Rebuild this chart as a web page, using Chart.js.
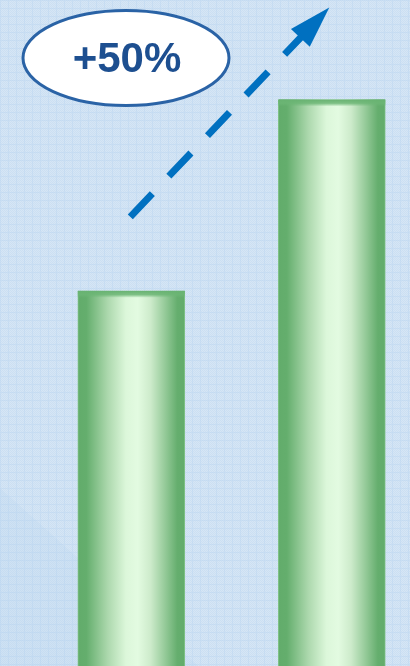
<!DOCTYPE html>
<html>
<head>
<meta charset="utf-8">
<script src="https://cdn.jsdelivr.net/npm/chart.js@4"></script>
<style>
  html, body { margin: 0; padding: 0; background: #cfe2f3; }
  #wrap { width: 410px; height: 666px; position: relative; }
</style>
</head>
<body>
<div id="wrap"><canvas id="c" width="410" height="666"></canvas></div>
<script>
// ---- data ----
const categories = ['Before', 'After'];
const values = [100, 151];
const changeLabel = '+50%';
const yMax = 177.5;

// ---- background pattern ----
function makePattern(ctx) {
  const p = document.createElement('canvas');
  p.width = 8; p.height = 8;
  const g = p.getContext('2d');
  for (let i = 0; i < 8; i++) {
    for (let j = 0; j < 8; j++) {
      let c = ((i + j) % 2) ? '#d6e6f5' : '#cbdff2';
      if (i === 0 || j === 0) c = ((i + j) % 2) ? '#cadff3' : '#c3daf1';
      g.fillStyle = c;
      g.fillRect(i, j, 1, 1);
    }
  }
  return ctx.createPattern(p, 'repeat');
}

const bgPlugin = {
  id: 'bg',
  beforeDraw(chart) {
    const ctx = chart.ctx;
    ctx.save();
    ctx.fillStyle = makePattern(ctx);
    ctx.fillRect(0, 0, chart.width, chart.height);
    ctx.fillStyle = 'rgba(175,205,235,0.16)';
    ctx.beginPath();
    ctx.moveTo(0, 488);
    ctx.lineTo(205, 672);
    ctx.lineTo(0, 672);
    ctx.closePath();
    ctx.fill();
    ctx.restore();
  }
};

const BAR_W = 107;

function barGradient(context) {
  const chart = context.chart;
  const xs = chart.scales && chart.scales.x;
  if (!xs) return '#8cc68f';
  const cx = xs.getPixelForValue(context.dataIndex);
  if (!isFinite(cx)) return '#8cc68f';
  const x0 = cx - BAR_W / 2, x1 = cx + BAR_W / 2;
  const g = chart.ctx.createLinearGradient(x0, 0, x1, 0);
  g.addColorStop(0.00, '#62ac6b');
  g.addColorStop(0.08, '#64ae6d');
  g.addColorStop(0.28, '#acd8ad');
  g.addColorStop(0.45, '#dcf7da');
  g.addColorStop(0.56, '#e3fbe1');
  g.addColorStop(0.68, '#cdebcb');
  g.addColorStop(0.82, '#93c997');
  g.addColorStop(0.93, '#65ae6e');
  g.addColorStop(1.00, '#62ac6b');
  return g;
}

const decoPlugin = {
  id: 'deco',
  afterDatasetsDraw(chart) {
    const ctx = chart.ctx;
    const bars = chart.getDatasetMeta(0).data;
    ctx.save();
    bars.forEach(b => {
      const x0 = b.x - b.width / 2;
      const g = ctx.createLinearGradient(0, b.y, 0, b.y + 7);
      g.addColorStop(0, 'rgba(104,178,113,1)');
      g.addColorStop(0.55, 'rgba(108,182,117,0.85)');
      g.addColorStop(1, 'rgba(108,182,117,0)');
      ctx.fillStyle = g;
      ctx.fillRect(x0, b.y, b.width, 7);
    });

    const b1 = bars[0], b2 = bars[1];
    const tail = { x: b1.x - 1, y: b1.y - 74 };
    const tip = { x: b2.x - 2.5, y: b2.y - 92 };
    const dx = tip.x - tail.x, dy = tip.y - tail.y;
    const len = Math.hypot(dx, dy);
    const ux = dx / len, uy = dy / len;
    const nx = -uy, ny = ux;
    const headLen = 40, headHalf = 13;
    const base = { x: tip.x - ux * headLen, y: tip.y - uy * headLen };
    ctx.strokeStyle = '#0070c0';
    ctx.fillStyle = '#0070c0';
    ctx.lineWidth = 7;
    ctx.lineCap = 'butt';
    ctx.setLineDash([32, 24]);
    ctx.beginPath();
    ctx.moveTo(tail.x, tail.y);
    ctx.lineTo(base.x + ux * 4, base.y + uy * 4);
    ctx.stroke();
    ctx.setLineDash([]);
    ctx.beginPath();
    ctx.moveTo(tip.x, tip.y);
    ctx.lineTo(base.x + nx * headHalf - ux * 2, base.y + ny * headHalf - uy * 2);
    ctx.lineTo(base.x - nx * headHalf - ux * 2, base.y - ny * headHalf - uy * 2);
    ctx.closePath();
    ctx.fill();

    const ex = 126, ey = 58;
    ctx.beginPath();
    ctx.ellipse(ex, ey, 103, 47.5, 0, 0, Math.PI * 2);
    ctx.fillStyle = '#ffffff';
    ctx.fill();
    ctx.lineWidth = 3;
    ctx.strokeStyle = '#2a63a6';
    ctx.stroke();
    ctx.fillStyle = '#1d4f90';
    ctx.font = 'bold 42px "Liberation Sans", Arial, sans-serif';
    ctx.textAlign = 'center';
    ctx.textBaseline = 'alphabetic';
    ctx.fillText(changeLabel, ex + 1, ey + 14);
    ctx.restore();
  }
};

new Chart(document.getElementById('c'), {
  type: 'bar',
  data: {
    labels: categories,
    datasets: [{
      data: values,
      backgroundColor: barGradient,
      borderColor: '#80c287',
      borderWidth: { left: 1, right: 1, top: 0, bottom: 0 },
      borderSkipped: 'bottom',
      barThickness: BAR_W,
      clip: false
    }]
  },
  options: {
    responsive: false,
    animation: false,
    events: [],
    layout: { padding: { left: 131.3, right: 78.2, top: 0, bottom: 0 } },
    plugins: { legend: { display: false }, tooltip: { enabled: false }, title: { display: false } },
    scales: {
      x: { display: false, offset: false, grid: { display: false } },
      y: { display: false, min: 0, max: yMax, grid: { display: false } }
    }
  },
  plugins: [bgPlugin, decoPlugin]
});
</script>
</body>
</html>
